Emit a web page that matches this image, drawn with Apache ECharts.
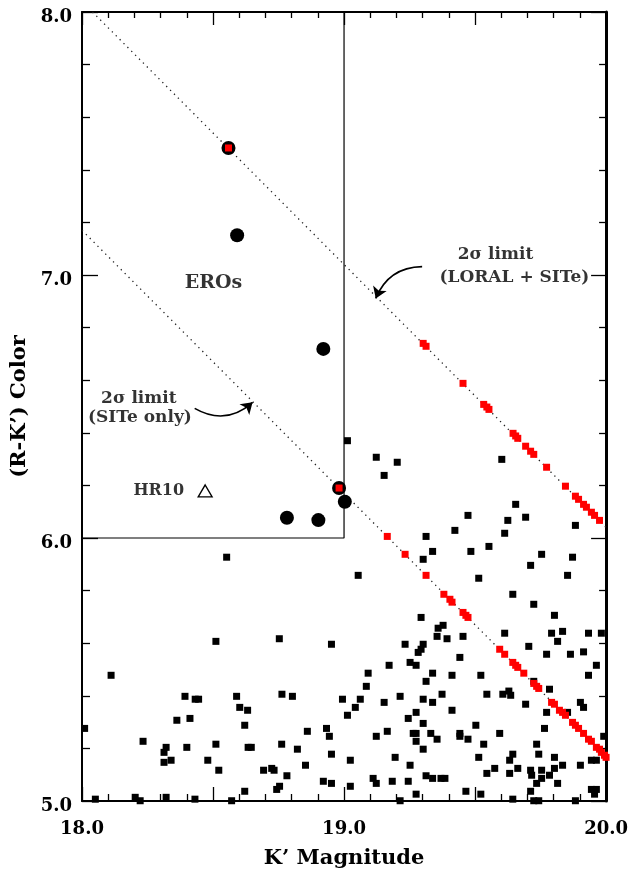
<!DOCTYPE html>
<html>
<head>
<meta charset="utf-8">
<script src="https://cdn.jsdelivr.net/npm/echarts@6/dist/echarts.min.js"></script>
<style>
html,body{margin:0;padding:0;background:#fff;}
#chart{width:631px;height:876px;}
</style>
</head>
<body>
<div id="chart"></div>
<script>
// ---- data ----
// field galaxies (black squares): [K', R-K']
const fieldGalaxies = [
 [18.552,5.927],[18.511,5.607],[18.111,5.478],[18.393,5.398],[18.432,5.387],[18.445,5.387],
 [18.590,5.398],[18.602,5.356],[18.632,5.345],[18.362,5.307],[18.412,5.314],[18.010,5.276],
 [18.621,5.288],[18.233,5.227],[18.321,5.204],[18.313,5.185],[18.400,5.204],[18.511,5.216],
 [18.634,5.204],[18.646,5.204],[18.340,5.155],[18.313,5.147],[18.480,5.155],[18.522,5.117],
 [18.621,5.037],[18.051,5.007],[18.203,5.014],[18.222,5.001],[18.321,5.014],[18.431,5.007],
 [18.571,5.001],[18.693,5.117],[18.724,5.124],[18.733,5.117],[18.753,5.617],[18.763,5.406],
 [18.803,5.398],[18.762,5.216],[18.782,5.096],[18.743,5.044],[18.754,5.056],[18.822,5.197],
 [18.860,5.265],[18.853,5.136],[19.313,6.006],[19.338,5.949],[19.302,5.919],[19.054,5.858],
 [19.294,5.698],[18.952,5.596],[19.233,5.596],[19.302,5.596],[19.294,5.577],[19.283,5.565],
 [19.172,5.516],[19.252,5.527],[19.275,5.516],[19.338,5.486],[19.092,5.486],[19.313,5.455],
 [19.085,5.436],[18.994,5.387],[19.062,5.387],[19.043,5.356],[19.153,5.375],[19.214,5.398],
 [19.302,5.387],[19.338,5.375],[19.013,5.326],[19.275,5.337],[19.245,5.314],[19.302,5.295],
 [18.933,5.276],[18.944,5.246],[19.123,5.246],[19.165,5.265],[19.264,5.257],[19.275,5.257],
 [19.331,5.257],[19.275,5.227],[19.302,5.197],[18.952,5.178],[19.024,5.155],[19.195,5.166],
 [19.252,5.136],[18.921,5.075],[18.952,5.067],[19.111,5.086],[19.123,5.067],[19.184,5.075],
 [19.245,5.075],[19.313,5.096],[19.338,5.086],[19.024,5.056],[19.275,5.026],[19.214,5.001],
 [19.625,6.067],[19.693,6.079],[19.883,6.048],[19.423,6.029],[19.613,6.018],[19.484,5.949],
 [19.553,5.968],[19.754,5.938],[19.872,5.927],[19.712,5.896],[19.853,5.858],[19.514,5.847],
 [19.644,5.786],[19.724,5.748],[19.803,5.706],[19.359,5.657],[19.378,5.668],[19.355,5.626],
 [19.393,5.617],[19.454,5.626],[19.613,5.638],[19.792,5.638],[19.834,5.645],[19.815,5.607],
 [19.933,5.638],[19.982,5.638],[19.705,5.588],[19.773,5.558],[19.864,5.558],[19.914,5.567],
 [19.442,5.546],[19.963,5.516],[19.933,5.478],[19.412,5.478],[19.522,5.478],[19.374,5.406],
 [19.545,5.406],[19.606,5.406],[19.629,5.418],[19.636,5.402],[19.724,5.455],[19.784,5.425],
 [19.412,5.345],[19.693,5.368],[19.773,5.337],[19.902,5.375],[19.914,5.356],[19.853,5.337],
 [19.503,5.288],[19.765,5.276],[19.355,5.235],[19.442,5.257],[19.442,5.246],[19.473,5.235],
 [19.594,5.257],[19.533,5.216],[19.735,5.216],[19.991,5.246],[19.644,5.178],[19.632,5.155],
 [19.743,5.178],[19.514,5.166],[19.803,5.166],[19.944,5.155],[19.963,5.155],[19.575,5.124],
 [19.663,5.124],[19.712,5.117],[19.754,5.117],[19.803,5.124],[19.834,5.136],[19.902,5.136],
 [19.545,5.105],[19.632,5.105],[19.716,5.098],[19.754,5.086],[19.784,5.098],[19.370,5.086],
 [19.385,5.086],[19.735,5.067],[19.815,5.067],[19.465,5.037],[19.522,5.026],[19.712,5.037],
 [19.944,5.044],[19.963,5.044],[19.956,5.026],[19.644,5.007],[19.724,5.001],[19.743,5.001],
 [19.883,5.001],[19.013,6.370],[19.123,6.307],[19.203,6.288],[19.153,6.238],[19.602,6.299],
 [19.655,6.128],[19.473,6.086]
];
// sources at the LORAL + SITe 2-sigma limit (red squares)
const limitLoralSite = [
 [18.559,7.483],[19.302,6.740],[19.313,6.729],[19.454,6.588],[19.533,6.508],[19.545,6.498],
 [19.553,6.489],[19.645,6.398],[19.655,6.388],[19.663,6.379],[19.693,6.349],[19.712,6.330],
 [19.724,6.318],[19.773,6.269],[19.845,6.197],[19.883,6.159],[19.895,6.147],[19.914,6.128],
 [19.925,6.117],[19.944,6.098],[19.956,6.086],[19.975,6.067]
];
// sources at the SITe-only 2-sigma limit (red squares)
const limitSiteOnly = [
 [18.981,6.190],[19.165,6.006],[19.233,5.938],[19.313,5.858],[19.381,5.786],[19.404,5.767],
 [19.412,5.756],[19.454,5.717],[19.465,5.706],[19.473,5.698],[19.594,5.577],[19.613,5.558],
 [19.644,5.527],[19.655,5.516],[19.663,5.508],[19.686,5.486],[19.724,5.447],[19.735,5.436],
 [19.743,5.428],[19.792,5.375],[19.803,5.368],[19.822,5.345],[19.834,5.337],[19.845,5.326],
 [19.872,5.299],[19.883,5.288],[19.895,5.276],[19.914,5.257],[19.933,5.235],[19.944,5.227],
 [19.963,5.204],[19.975,5.197],[19.982,5.185],[19.994,5.174],[20.000,5.166]
];
// extremely red objects (large filled circles)
const eros = [
 [18.559,7.483],[18.592,7.151],[18.921,6.719],[18.981,6.190],[19.003,6.138],[18.902,6.068],[18.782,6.077]
];
const hr10 = [[18.470,6.179]];
// 2-sigma limit lines (R - K' = const)
const loralSiteLine = [[18.04,8.00],[20.00,6.04]];
const siteOnlyLine = [[18.00,7.17],[20.00,5.17]];
// ERO selection box
const eroBox = [[18.0,6.0],[19.0,6.0],[19.0,8.0]];
// axis ranges
const xRange = [18.0, 20.0];
const yRange = [5.0, 8.0];

// ---- chart ----
const FONT = '"DejaVu Serif", "Liberation Serif", serif';
const chart = echarts.init(document.getElementById('chart'), null, {renderer:'canvas'});

function axisCommon(extra){
  return Object.assign({
    type:'value',
    axisLine:{show:true,onZero:false,lineStyle:{color:'#000',width:2}},
    splitLine:{show:false},
    minorSplitLine:{show:false}
  }, extra);
}
const isInt = v => Math.abs(v - Math.round(v)) < 1e-6;

const option = {
  animation:false,
  backgroundColor:'#fff',
  grid:{left:82,right:23,top:12,bottom:75,containLabel:false},
  xAxis:[
    axisCommon({
      position:'bottom', min:xRange[0], max:xRange[1], interval:0.5,
      name:'K\u2019 Magnitude', nameLocation:'middle', nameGap:47,
      nameTextStyle:{fontFamily:FONT,fontWeight:'bold',fontSize:21,color:'#000'},
      axisTick:{show:true,inside:true,length:14,lineStyle:{color:'#000',width:1.3}},
      minorTick:{show:true,splitNumber:5,length:7,lineStyle:{color:'#000',width:1.3}},
      axisLabel:{show:true,margin:19,fontFamily:FONT,fontWeight:'bold',fontSize:18,color:'#000',
        formatter:v=>isInt(v)?v.toFixed(1):''}
    }),
    axisCommon({
      position:'top', min:xRange[0], max:xRange[1], interval:0.5,
      axisTick:{show:true,inside:true,length:13,lineStyle:{color:'#000',width:1.3}},
      minorTick:{show:true,splitNumber:5,length:6,lineStyle:{color:'#000',width:1.3}},
      axisLabel:{show:false}
    })
  ],
  yAxis:[
    axisCommon({
      position:'left', min:yRange[0], max:yRange[1], interval:1,
      name:'(R-K\u2019) Color', nameLocation:'middle', nameGap:48, nameRotate:90,
      nameTextStyle:{fontFamily:FONT,fontWeight:'bold',fontSize:21,color:'#000'},
      axisTick:{show:true,inside:true,length:16,lineStyle:{color:'#000',width:1.3}},
      minorTick:{show:true,splitNumber:5,length:8,lineStyle:{color:'#000',width:1.3}},
      axisLabel:{show:true,margin:10,fontFamily:FONT,fontWeight:'bold',fontSize:18,color:'#000',
        verticalAlign:'top',lineHeight:11,formatter:v=>v.toFixed(1)}
    }),
    axisCommon({
      position:'right', min:yRange[0], max:yRange[1], interval:1,
      axisLine:{show:true,onZero:false,lineStyle:{color:'#000',width:3}},
      axisTick:{show:true,inside:true,length:15,lineStyle:{color:'#000',width:1.3}},
      minorTick:{show:true,splitNumber:5,length:7,lineStyle:{color:'#000',width:1.3}},
      axisLabel:{show:false}
    })
  ],
  series:[
    {type:'line', data:loralSiteLine, symbol:'none', silent:true, z:1,
     lineStyle:{color:'#222',width:1.3,type:[1.3,4.2]}},
    {type:'line', data:siteOnlyLine, symbol:'none', silent:true, z:1,
     lineStyle:{color:'#222',width:1.3,type:[1.3,4.2]}},
    {type:'line', data:eroBox, symbol:'none', silent:true, z:1,
     lineStyle:{color:'#000',width:1.2}},
    {type:'scatter', data:fieldGalaxies, symbol:'rect', symbolSize:7, clip:false, z:3,
     itemStyle:{color:'#000',opacity:1}},
    {type:'scatter', data:eros, symbol:'circle', symbolSize:14, clip:false, z:4,
     itemStyle:{color:'#000',opacity:1}},
    {type:'scatter', data:hr10, symbol:'triangle', symbolSize:[14,12], clip:false, z:4,
     itemStyle:{color:'#fff',borderColor:'#000',borderWidth:1.3,opacity:1}},
    {type:'scatter', data:limitLoralSite, symbol:'rect', symbolSize:7, clip:false, z:5,
     itemStyle:{color:'#ff0000',opacity:1}},
    {type:'scatter', data:limitSiteOnly, symbol:'rect', symbolSize:7, clip:false, z:5,
     itemStyle:{color:'#ff0000',opacity:1}},
    {type:'lines', coordinateSystem:'cartesian2d', z:6, silent:true,
     symbol:['none','arrow'], symbolSize:11,
     lineStyle:{color:'#000',width:1.6,curveness:-0.33,opacity:1},
     data:[{coords:[[19.298,7.032],[19.121,6.911]]}]},
    {type:'lines', coordinateSystem:'cartesian2d', z:6, silent:true,
     symbol:['none','arrow'], symbolSize:11,
     lineStyle:{color:'#000',width:1.6,curveness:-0.36,opacity:1},
     data:[{coords:[[18.430,6.493],[18.651,6.516]]}]},
    {type:'scatter', symbolSize:1, z:7, silent:true, clip:false,
     itemStyle:{color:'rgba(0,0,0,0)'},
     label:{show:true,position:'inside',formatter:p=>p.name,color:'#000',
       fontFamily:FONT,fontWeight:'bold',fontSize:17},
     data:[
       {name:'2\u03c3 limit', value:[19.578,7.076]},
       {name:'(LORAL + SITe)', value:[19.650,6.992]},
       {name:'2\u03c3 limit', value:[18.217,6.532]},
       {name:'(SITe only)', value:[18.221,6.456]},
       {name:'EROs', value:[18.502,6.970], label:{fontSize:19}},
       {name:'HR10', value:[18.293,6.179], label:{fontSize:16}}
     ]}
  ]
};
chart.setOption(option);
</script>
</body>
</html>
